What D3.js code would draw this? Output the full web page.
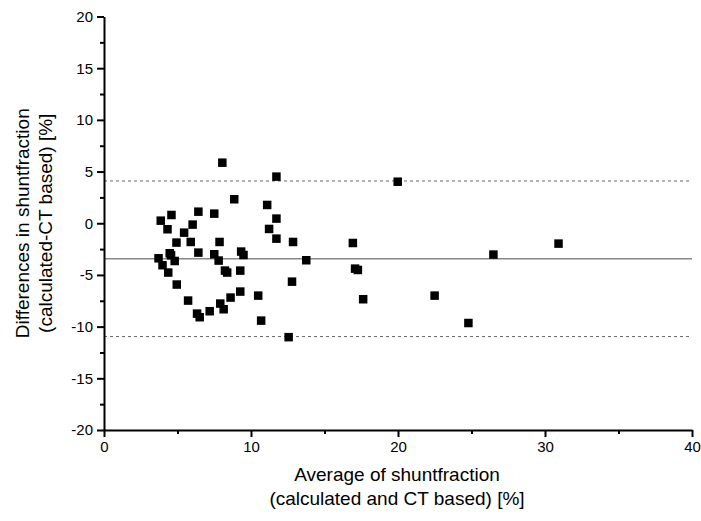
<!DOCTYPE html>
<html>
<head>
<meta charset="utf-8">
<script src="https://cdn.jsdelivr.net/npm/d3@7"></script>
<style>
  body { margin: 0; background: #fff; }
  text { font-family: "Liberation Sans", Arial, sans-serif; fill: #000; }
</style>
</head>
<body>
<div class="chart"></div>
<script>
// average of calculated and CT based shuntfraction [%]
const avgVals = [8.05, 11.73, 8.86, 11.10, 6.42, 7.50, 4.59, 3.86, 11.73, 6.03,
  4.32, 11.23, 5.45, 11.73, 4.93, 5.90, 7.86, 6.42, 7.50, 9.33,
  9.49, 3.71, 4.47, 4.56, 4.81, 7.80, 3.98, 4.37, 8.23, 8.38,
  9.27, 4.95, 5.72, 9.27, 10.49, 8.61, 7.91, 8.14, 7.19, 6.33,
  6.51, 10.69, 12.56, 12.79, 19.98, 12.86, 16.93, 13.76, 17.08, 17.27,
  17.63, 22.49, 30.92, 26.49, 24.79];
// difference (calculated - CT based) [%]
const diffVals = [5.86, 4.51, 2.32, 1.77, 1.12, 0.93, 0.80, 0.25, 0.45, -0.13,
  -0.58, -0.55, -0.91, -1.49, -1.87, -1.81, -1.81, -2.84, -3.00, -2.74,
  -3.07, -3.39, -2.90, -3.10, -3.65, -3.61, -4.06, -4.77, -4.58, -4.77,
  -4.58, -5.93, -7.48, -6.61, -7.00, -7.19, -7.77, -8.32, -8.51, -8.74,
  -9.09, -9.42, -11.02, -5.65, 4.02, -1.81, -1.91, -3.58, -4.39, -4.52,
  -7.35, -7.00, -1.97, -3.03, -9.65];

const meanDiff = -3.43;
const limits = [4.09, -10.96];

const xMajor = [0, 10, 20, 30, 40];
const xMinor = [5, 15, 25, 35];
const yMajor = [-20, -15, -10, -5, 0, 5, 10, 15, 20];
const yMinor = [-17.5, -12.5, -7.5, -2.5, 2.5, 7.5, 12.5, 17.5];

const width = 701, height = 521;
const margin = { top: 16.5, right: 9, bottom: 91, left: 104 };

const svg = d3.select('.chart').append('svg')
  .attr('width', width)
  .attr('height', height);

const x = d3.scaleLinear().domain([0, 40]).range([margin.left, width - margin.right]);
const y = d3.scaleLinear().domain([-20, 20]).range([height - margin.bottom, margin.top]);

// limits of agreement + mean
svg.selectAll('.loa')
  .data(limits)
  .join('line')
  .attr('class', 'loa')
  .attr('x1', x(0)).attr('x2', x(40))
  .attr('y1', d => y(d)).attr('y2', d => y(d))
  .attr('stroke', '#666')
  .attr('stroke-width', 1)
  .attr('stroke-dasharray', '3,3');

svg.append('line')
  .attr('x1', x(0)).attr('x2', x(40))
  .attr('y1', y(meanDiff)).attr('y2', y(meanDiff))
  .attr('stroke', '#888')
  .attr('stroke-width', 1.5);

// axes (plain hyphen for negatives, like the original)
const fmt = d => String(d);

svg.append('g')
  .attr('transform', `translate(0,${y(-20)})`)
  .call(d3.axisBottom(x).tickValues(xMajor).tickFormat(fmt).tickSize(7).tickSizeOuter(0).tickPadding(4));
svg.append('g')
  .attr('transform', `translate(0,${y(-20)})`)
  .call(d3.axisBottom(x).tickValues(xMinor).tickSize(4).tickSizeOuter(0).tickFormat(''))
  .select('.domain').remove();

svg.append('g')
  .attr('transform', `translate(${x(0)},0)`)
  .call(d3.axisLeft(y).tickValues(yMajor).tickFormat(fmt).tickSize(7).tickSizeOuter(0).tickPadding(4));
svg.append('g')
  .attr('transform', `translate(${x(0)},0)`)
  .call(d3.axisLeft(y).tickValues(yMinor).tickSize(4).tickSizeOuter(0).tickFormat(''))
  .select('.domain').remove();

svg.selectAll('.domain').attr('stroke', '#000').attr('stroke-width', 2);
svg.selectAll('.tick line').attr('stroke', '#000').attr('stroke-width', 2);
svg.selectAll('.tick text')
  .style('font-family', '"Liberation Sans", Arial, sans-serif')
  .style('font-size', '15px')
  .style('fill', '#000');

// points
const sq = 8.5;
svg.selectAll('.pt')
  .data(avgVals.map((a, i) => [a, diffVals[i]]))
  .join('rect')
  .attr('class', 'pt')
  .attr('x', d => x(d[0]) - sq / 2)
  .attr('y', d => y(d[1]) - sq / 2)
  .attr('width', sq)
  .attr('height', sq)
  .attr('fill', '#000');

// axis titles
const xt = svg.append('text')
  .attr('text-anchor', 'middle')
  .style('font-size', '19px');
xt.append('tspan').attr('x', 397).attr('y', 481).text('Average of shuntfraction');
xt.append('tspan').attr('x', 397).attr('y', 505).text('(calculated and CT based) [%]');

const yt = svg.append('text')
  .attr('text-anchor', 'middle')
  .attr('transform', `translate(0,${y(0)}) rotate(-90)`)
  .style('font-size', '19px');
yt.append('tspan').attr('x', 0).attr('y', 29).text('Differences in shuntfraction');
yt.append('tspan').attr('x', 0).attr('y', 52).text('(calculated-CT based) [%]');
</script>
</body>
</html>
